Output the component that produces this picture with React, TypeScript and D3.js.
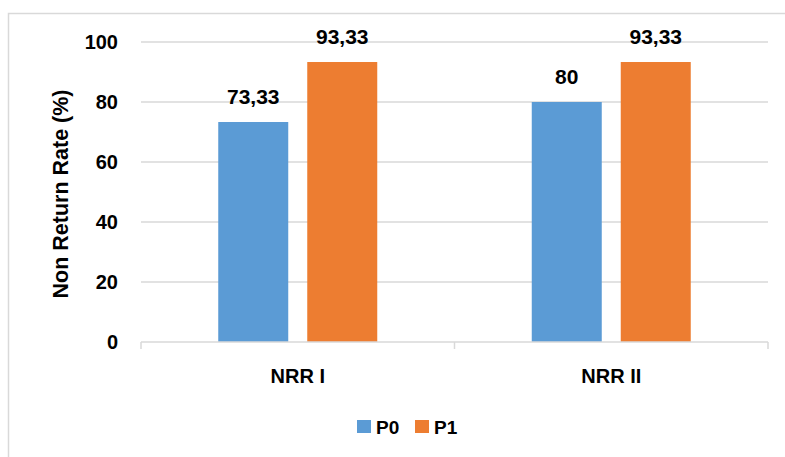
import React from "react";
import * as d3 from "d3";

const categories = ["NRR I", "NRR II"];
const seriesNames = ["P0", "P1"];
const p0Values = [73.33, 80];
const p1Values = [93.33, 93.33];
const valueLabels0 = ["73,33", "80"];
const valueLabels1 = ["93,33", "93,33"];
const yTicks = [0, 20, 40, 60, 80, 100];
const colors = ["#5B9BD5", "#ED7D31"];

export default function App() {
  const W = 785, H = 457;
  const left = 141, right = 768, top = 42, bottom = 342;
  const font = "'Liberation Sans', Arial, sans-serif";
  const x = d3.scaleBand<string>().domain(categories).range([left, right]).paddingInner(0).paddingOuter(0);
  const y = d3.scaleLinear().domain([0, 100]).range([bottom, top]);
  const barW = 70, gap = 19;
  const series = [p0Values, p1Values];
  const labels = [valueLabels0, valueLabels1];

  return (
    <svg width={W} height={H} style={{ position: "absolute", left: 0, top: 0 }}>
      <rect x={0} y={0} width={W} height={H} fill="#fff" />
      <rect x={8.5} y={13.5} width={W + 10} height={H + 10} fill="#fff" stroke="#D9D9D9" strokeWidth={1.5} />
      {yTicks.filter(t => t > 0).map(t => (
        <line key={t} x1={left} x2={right} y1={y(t)} y2={y(t)} stroke="#D9D9D9" strokeWidth={1.5} />
      ))}
      {categories.map((c, i) => {
        const cx = (x(c) as number) + x.bandwidth() / 2;
        return series.map((s, j) => {
          const bx = j === 0 ? cx - gap / 2 - barW : cx + gap / 2;
          return (
            <g key={c + j}>
              <rect x={bx} y={y(s[i])} width={barW} height={y(0) - y(s[i])} fill={colors[j]} />
              <text x={bx + barW / 2} y={y(s[i]) - 18} textAnchor="middle" fontFamily={font} fontWeight="bold" fontSize={21} fill="#000">
                {labels[j][i]}
              </text>
            </g>
          );
        });
      })}
      <line x1={left} x2={right} y1={bottom} y2={bottom} stroke="#D9D9D9" strokeWidth={1.5} />
      {[left, left + x.bandwidth(), right].map((tx, i) => (
        <line key={i} x1={tx} x2={tx} y1={bottom} y2={bottom + 7} stroke="#D9D9D9" strokeWidth={1.5} />
      ))}
      {yTicks.map(t => (
        <text key={t} x={118} y={y(t) + 7} textAnchor="end" fontFamily={font} fontWeight="bold" fontSize={20} fill="#000">
          {t}
        </text>
      ))}
      {categories.map(c => (
        <text key={c} x={(x(c) as number) + x.bandwidth() / 2} y={383} textAnchor="middle" fontFamily={font} fontWeight="bold" fontSize={20} fill="#000">
          {c}
        </text>
      ))}
      <text transform={`translate(68,194) rotate(-90)`} textAnchor="middle" fontFamily={font} fontWeight="bold" fontSize={21.5} fill="#000">
        Non Return Rate (%)
      </text>
      {seriesNames.map((n, j) => (
        <g key={n} transform={`translate(${357 + j * 58},420)`}>
          <rect x={0} y={0} width={14} height={13} fill={colors[j]} />
          <text x={19} y={14} fontFamily={font} fontWeight="bold" fontSize={19} fill="#000">{n}</text>
        </g>
      ))}
    </svg>
  );
}
